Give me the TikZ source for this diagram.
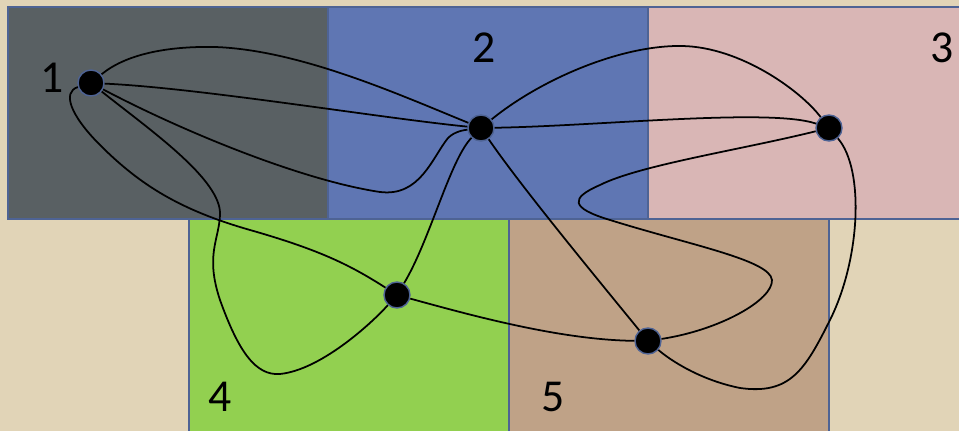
\documentclass[tikz,border=0pt]{standalone}
\usepackage{fontspec}
\setmainfont{Carlito}

\definecolor{latar}{HTML}{E1D4B7}
\definecolor{abu}{HTML}{596063}
\definecolor{biru}{HTML}{5F76B3}
\definecolor{merahmuda}{HTML}{D9B6B5}
\definecolor{hijau}{HTML}{92D050}
\definecolor{coklat}{HTML}{BFA287}
\definecolor{garis}{HTML}{4E6394}

\tikzset{
  kotak/.style={draw=garis, line width=0.4pt},
  titik/.style={circle, fill=black, draw=garis, line width=0.4pt, inner sep=0pt, minimum size=2.6mm},
  sisi/.style={black, line width=0.5pt},
  angka/.style={font=\fontsize{13}{15}\selectfont}
}

\begin{document}
\begin{tikzpicture}[x=0.01cm, y=-0.01cm]
    \fill[latar] (0,0) rectangle (959,431);
    \useasboundingbox (0,0) rectangle (959,431);

    % Daerah
    \filldraw[kotak, fill=abu] (8,7) rectangle (328,219);
    \filldraw[kotak, fill=biru] (328,7) rectangle (648,219);
    \filldraw[kotak, fill=merahmuda] (648,7) rectangle (965,219);
    \filldraw[kotak, fill=hijau] (189,219) rectangle (509,436);
    \filldraw[kotak, fill=coklat] (509,219) rectangle (829,436);

    % Nomor daerah
    \node[angka] (l1) at (52,78) {1};
    \node[angka] (l2) at (484,48) {2};
    \node[angka] (l3) at (942,48) {3};
    \node[angka] (l4) at (220,397) {4};
    \node[angka] (l5) at (553,397) {5};

    % Titik
    \node[titik] (n1) at (91,83) {};
    \node[titik] (n2) at (481,128) {};
    \node[titik] (n3) at (829,128) {};
    \node[titik] (n4) at (397,295) {};
    \node[titik] (n5) at (648,341) {};

    % Sisi dari titik 1
    \draw[sisi] (n1) .. controls (125,55) and (165,46) .. (215,47)
        .. controls (300,50) and (400,95) .. (n2);
    \draw[sisi] (n1) .. controls (200,88) and (380,118) .. (n2);
    \draw[sisi] (n1) .. controls (180,130) and (300,180) .. (380,192)
        .. controls (420,197) and (432,158) .. (448,138)
        .. controls (455,131) and (465,130) .. (n2);
    \draw[sisi] (n1) .. controls (150,130) and (222,180) .. (220,215)
        .. controls (219,240) and (205,255) .. (220,300)
        .. controls (238,350) and (255,376) .. (280,374)
        .. controls (320,370) and (370,325) .. (n4);
    \draw[sisi] (n1) .. controls (62,92) and (70,115) .. (100,145)
        .. controls (140,185) and (180,210) .. (250,230)
        .. controls (320,250) and (350,265) .. (n4);

    % Sisi dari titik 2
    \draw[sisi] (n2) .. controls (600,126) and (770,108) .. (n3);
    \draw[sisi] (n2) .. controls (540,80) and (620,45) .. (682,46)
        .. controls (740,47) and (800,90) .. (n3);
    \draw[sisi] (n2) .. controls (450,160) and (430,240) .. (n4);
    \draw[sisi] (n2) .. controls (520,185) and (590,270) .. (n5);

    % Sisi dari titik 3
    \draw[sisi] (n3) .. controls (740,150) and (640,165) .. (600,185)
        .. controls (570,198) and (570,208) .. (610,220)
        .. controls (690,245) and (770,260) .. (772,280)
        .. controls (773,300) and (720,330) .. (n5);
    \draw[sisi] (n3) .. controls (865,170) and (860,260) .. (830,320)
        .. controls (805,370) and (790,395) .. (740,388)
        .. controls (700,380) and (670,360) .. (n5);

    % Sisi dari titik 4
    \draw[sisi] (n4) .. controls (470,315) and (560,340) .. (n5);
\end{tikzpicture}
\end{document}
